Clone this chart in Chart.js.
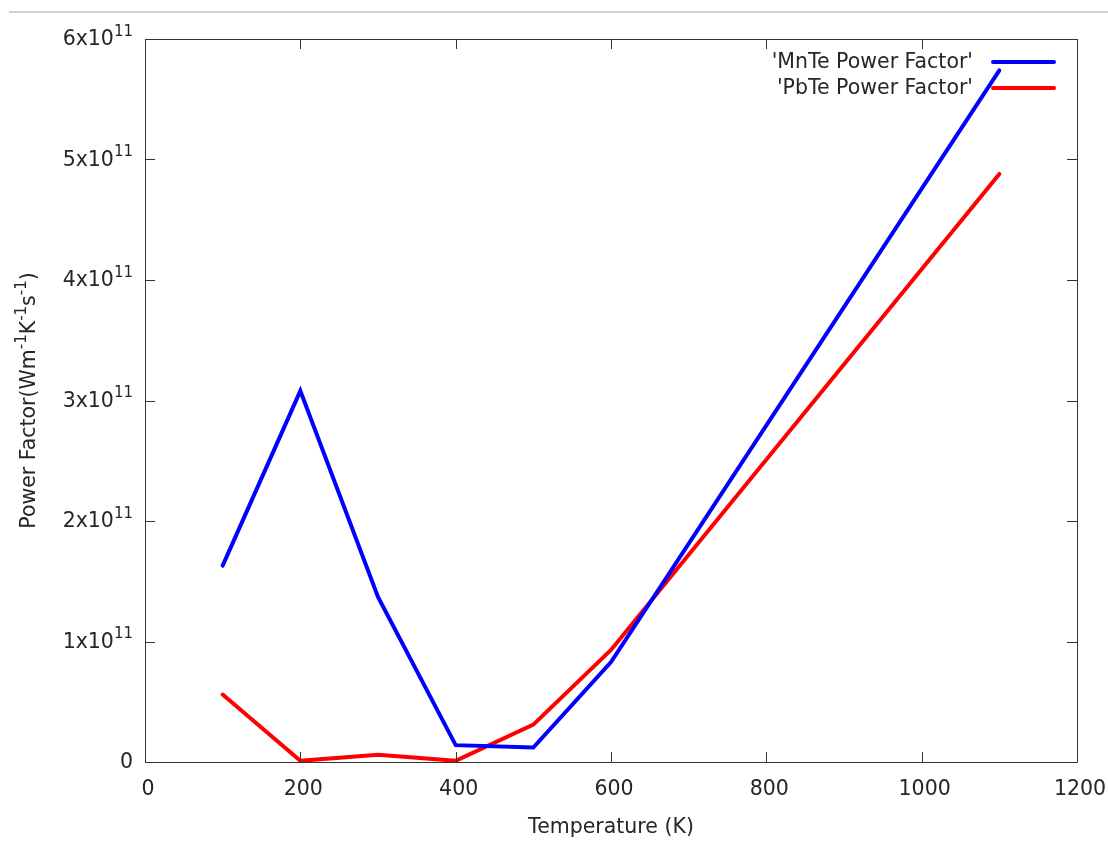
<!DOCTYPE html>
<html>
<head>
<meta charset="utf-8">
<script src="https://cdn.jsdelivr.net/npm/chart.js@4/dist/chart.umd.min.js"></script>
<style>
html,body{margin:0;padding:0;background:#fff;}
#wrap{position:relative;width:1108px;height:841px;}
#topline{position:absolute;left:9px;right:0;top:11px;height:2px;background:#cfcfcf;}
</style>
</head>
<body>
<div id="wrap">
<canvas id="c" width="1108" height="841"></canvas>
<div id="topline"></div>
</div>
<script>
const temperatures = [100, 200, 300, 400, 500, 600, 1100];
const mnteValues = [1.63e11, 3.08e11, 1.37e11, 0.14e11, 0.12e11, 0.83e11, 5.74e11];
const pbteValues = [0.56e11, 0.01e11, 0.06e11, 0.01e11, 0.31e11, 0.93e11, 4.88e11];
const seriesLabels = ["'MnTe Power Factor'", "'PbTe Power Factor'"];
const xTicks = [0, 200, 400, 600, 800, 1000, 1200];
const yTicks = [0, 1e11, 2e11, 3e11, 4e11, 5e11, 6e11];
const xTitle = 'Temperature (K)';
// y title as [text, superscript?] parts
const yTitleParts = [['Power Factor(Wm', false], ['-1', true], ['K', false], ['-1', true], ['s', false], ['-1', true], [')', false]];

const FONT = 'DejaVu Sans';
const TXT = '#262626';
const MAIN = 20.5, SUP = 15;

function toXY(xs, ys){ return xs.map((x,i)=>({x:x, y:ys[i]})); }

function yLabelParts(v){
  if (v === 0) return [['0', false]];
  const n = Math.round(v/1e11);
  return [[n + 'x10', false], ['11', true]];
}

function partsWidth(ctx, parts, main, sup){
  let w = 0;
  parts.forEach(([t,s])=>{ ctx.font = (s?sup:main) + 'px "' + FONT + '"'; w += ctx.measureText(t).width; });
  return w;
}
function drawParts(ctx, parts, x, y, main, sup){
  ctx.textAlign = 'left';
  ctx.textBaseline = 'middle';
  parts.forEach(([t,s])=>{
    ctx.font = (s?sup:main) + 'px "' + FONT + '"';
    ctx.fillText(t, x, s ? y - main*0.4 : y);
    x += ctx.measureText(t).width;
  });
}

const boxPlugin = {
  id:'box',
  afterDatasetsDraw(chart){
    const {ctx, chartArea:a, scales} = chart;
    ctx.save();
    ctx.strokeStyle = '#333';
    ctx.lineWidth = 1;
    ctx.beginPath();
    const tl = 10;
    xTicks.forEach(v=>{
      const x = Math.round(scales.x.getPixelForValue(v))+0.5;
      ctx.moveTo(x, a.bottom); ctx.lineTo(x, a.bottom - tl);
      ctx.moveTo(x, a.top); ctx.lineTo(x, a.top + tl);
    });
    yTicks.forEach(v=>{
      const y = Math.round(scales.y.getPixelForValue(v))+0.5;
      ctx.moveTo(a.left, y); ctx.lineTo(a.left + tl, y);
      ctx.moveTo(a.right, y); ctx.lineTo(a.right - tl, y);
    });
    ctx.stroke();
    ctx.beginPath();
    ctx.rect(Math.round(a.left)+0.5, Math.round(a.top)+0.5, Math.round(a.right-a.left), Math.round(a.bottom-a.top));
    ctx.stroke();

    ctx.fillStyle = TXT;
    // x tick labels
    ctx.font = MAIN + 'px "' + FONT + '"';
    ctx.textAlign = 'center';
    ctx.textBaseline = 'middle';
    xTicks.forEach(v=>{
      ctx.fillText(String(v), scales.x.getPixelForValue(v) + 3, a.bottom + 28);
    });
    // y tick labels
    yTicks.forEach(v=>{
      const parts = yLabelParts(v);
      const w = partsWidth(ctx, parts, MAIN, SUP);
      drawParts(ctx, parts, a.left - 12 - w, scales.y.getPixelForValue(v) + 1, MAIN, SUP);
    });
    // y title
    ctx.save();
    ctx.translate(30, (a.top + a.bottom)/2);
    ctx.rotate(-Math.PI/2);
    const tw = partsWidth(ctx, yTitleParts, MAIN, SUP);
    drawParts(ctx, yTitleParts, -tw/2, 0, MAIN, SUP);
    ctx.restore();

    // legend
    ctx.font = MAIN + 'px "' + FONT + '"';
    ctx.textAlign = 'right';
    ctx.textBaseline = 'middle';
    chart.data.datasets.forEach((ds,i)=>{
      const y = a.top + 23 + i*26;
      ctx.fillStyle = TXT;
      ctx.fillText(ds.label, a.right - 104, y + 1);
      ctx.strokeStyle = ds.borderColor;
      ctx.lineWidth = 4;
      ctx.lineCap = 'round';
      ctx.beginPath();
      ctx.moveTo(a.right - 84, y); ctx.lineTo(a.right - 23, y);
      ctx.stroke();
    });
    ctx.restore();
  }
};

new Chart(document.getElementById('c'), {
  type:'line',
  data:{
    datasets:[
      {label:seriesLabels[0], data:toXY(temperatures, mnteValues), borderColor:'#0000ff', borderWidth:4, pointRadius:0, fill:false, tension:0, borderCapStyle:'round', borderJoinStyle:'miter'},
      {label:seriesLabels[1], data:toXY(temperatures, pbteValues), borderColor:'#ff0000', borderWidth:4, pointRadius:0, fill:false, tension:0, borderCapStyle:'round', borderJoinStyle:'miter'}
    ]
  },
  options:{
    responsive:false,
    animation:false,
    events:[],
    layout:{padding:{left:0, right:31, top:39, bottom:0}},
    plugins:{legend:{display:false}, tooltip:{enabled:false}},
    scales:{
      x:{
        type:'linear', min:0, max:1200,
        afterBuildTicks(s){ s.ticks = xTicks.map(v=>({value:v})); },
        afterFit(s){ s.height = 79; },
        grid:{display:false},
        border:{display:false},
        ticks:{display:false},
        title:{display:true, text:xTitle, color:TXT, font:{family:FONT, size:MAIN}, padding:{top:0, bottom:1}}
      },
      y:{
        type:'linear', min:0, max:6e11,
        afterBuildTicks(s){ s.ticks = yTicks.map(v=>({value:v})); },
        afterFit(s){ s.width = 145; },
        grid:{display:false},
        border:{display:false},
        ticks:{display:false},
        title:{display:false}
      }
    }
  },
  plugins:[boxPlugin]
});
</script>
</body>
</html>
